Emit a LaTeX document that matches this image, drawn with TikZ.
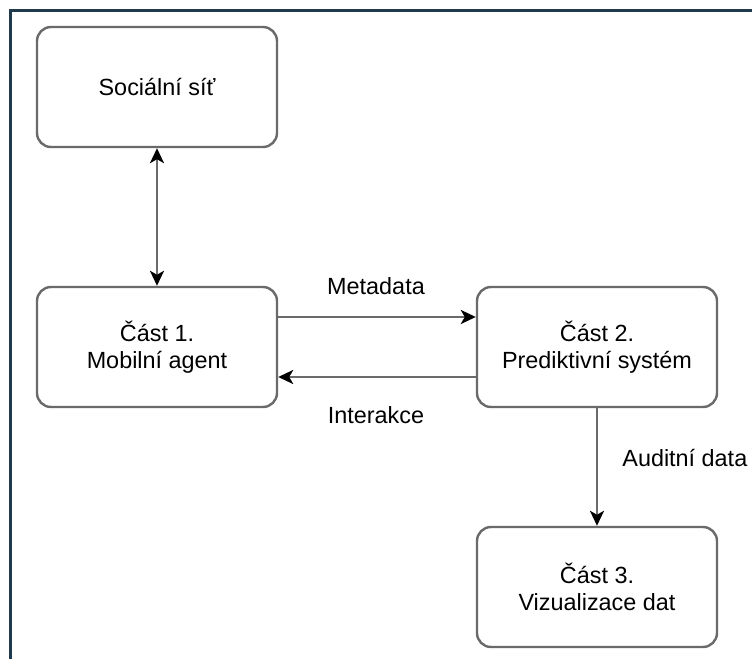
\documentclass[tikz,border=0pt]{standalone}
\usepackage{fontspec}
\setmainfont{Liberation Sans}
\usepackage{xcolor}
\usepackage{tikz}
\usetikzlibrary{arrows.meta}

\definecolor{framenavy}{HTML}{1F3A4D}
\definecolor{linegray}{HTML}{6A6A6A}

\tikzset{
  part/.style={draw=linegray, line width=1.2pt, rounded corners=7pt, minimum width=120pt,
    minimum height=60pt, align=center, font=\fontsize{11.7}{13.5}\selectfont},
  flow/.style={draw=linegray, line width=1.2pt, -{Stealth[length=7.5pt, width=7pt, inset=2pt, color=black]}},
  flowboth/.style={draw=linegray, line width=1.2pt, {Stealth[length=7.5pt, width=7pt, inset=2pt, color=black]}-{Stealth[length=7.5pt, width=7pt, inset=2pt, color=black]}},
  tag/.style={font=\fontsize{11.7}{13.5}\selectfont, inner sep=0pt}
}

\begin{document}
\begin{tikzpicture}[x=0.5pt, y=-0.5pt]
\useasboundingbox (0,0) rectangle (752,659);
\draw[framenavy, line width=1.3pt] (10.5,659) -- (10.5,10.5) -- (752,10.5);

\node[part] (social) at (157,87) {Sociální síť};
\node[part] (agent) at (157,347) {Část 1.\\Mobilní agent};
\node[part] (predict) at (597,347) {Část 2.\\Prediktivní systém};
\node[part] (visual) at (597,587) {Část 3.\\Vizualizace dat};

\draw[flowboth] (social) -- (agent);
\draw[flow] ([yshift=15pt]agent.east) -- ([yshift=15pt]predict.west);
\draw[flow] ([yshift=-15pt]predict.west) -- ([yshift=-15pt]agent.east);
\draw[flow] (predict) -- (visual);

\node[tag] (meta) at (376,286) {Metadata};
\node[tag] (inter) at (376,415) {Interakce};
\node[tag, anchor=west] (audit) at (622,458) {Auditní data};
\end{tikzpicture}
\end{document}
